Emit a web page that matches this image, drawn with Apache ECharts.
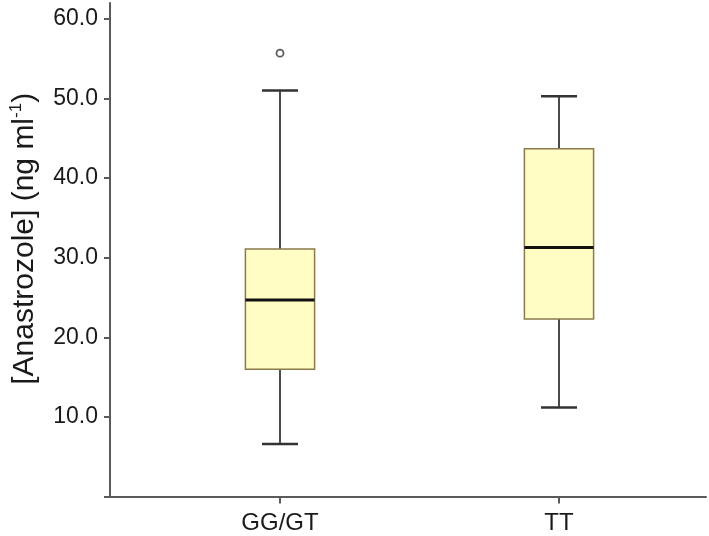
<!DOCTYPE html>
<html>
<head>
<meta charset="utf-8">
<script src="https://cdn.jsdelivr.net/npm/echarts@6/dist/echarts.min.js"></script>
<style>
  html, body { margin: 0; padding: 0; background: #fff; }
  #main { width: 709px; height: 536px; }
</style>
</head>
<body>
<div id="main"></div>
<script>
// box data
const categories = ['GG/GT', 'TT']
const whiskerLow = [6.6, 11.2]
const quartile1 = [16.0, 22.3]
const medians = [24.7, 31.3]
const quartile3 = [31.1, 43.7]
const whiskerHigh = [51.0, 50.3]
const outliers = [[0, 55.7]]
const yTicks = [0, 10, 20, 30, 40, 50, 60]
const yLabels = [10, 20, 30, 40, 50, 60]

const FONT = '"Liberation Sans", Arial, sans-serif'
const AXIS_COLOR = '#5a5a5a'

const boxData = categories.map((c, i) => [i, whiskerLow[i], quartile1[i], medians[i], quartile3[i], whiskerHigh[i]])

const renderBox = (params, api) => {
    const idx = api.value(0)
    const lo = api.coord([idx, api.value(1)])
    const q1 = api.coord([idx, api.value(2)])
    const md = api.coord([idx, api.value(3)])
    const q3 = api.coord([idx, api.value(4)])
    const hi = api.coord([idx, api.value(5)])
    const band = api.size([1, 0])[0]
    const half = band * 0.124
    const cap = half * 0.52
    const x = lo[0]
    const whisker = { stroke: '#4a4a4a', lineWidth: 2 }
    const capStyle = { stroke: '#333', lineWidth: 2.5 }
    return {
        type: 'group',
        children: [
            { type: 'line', shape: { x1: x, y1: lo[1], x2: x, y2: q1[1] }, style: whisker },
            { type: 'line', shape: { x1: x, y1: q3[1], x2: x, y2: hi[1] }, style: whisker },
            { type: 'line', shape: { x1: x - cap, y1: lo[1], x2: x + cap, y2: lo[1] }, style: capStyle },
            { type: 'line', shape: { x1: x - cap, y1: hi[1], x2: x + cap, y2: hi[1] }, style: capStyle },
            {
                type: 'rect',
                shape: { x: x - half, y: q3[1], width: half * 2, height: q1[1] - q3[1] },
                style: { fill: '#FFFDC4', stroke: '#8a7a4c', lineWidth: 1.5 }
            },
            { type: 'line', shape: { x1: x - half, y1: md[1], x2: x + half, y2: md[1] }, style: { stroke: '#111', lineWidth: 3 } }
        ]
    }
}

const myChart = echarts.init(document.getElementById('main'))
const option = {
    animation: false,
    textStyle: { fontFamily: FONT },
    grid: [
        { left: 109, right: 3, top: 3, bottom: 39.4 },
        { left: 140.5, right: 10.5, top: 3, bottom: 39.4 }
    ],
    xAxis: [
        {
            gridIndex: 0,
            type: 'value',
            min: 0,
            max: 1,
            axisLine: { show: true, lineStyle: { color: AXIS_COLOR, width: 2 } },
            axisTick: { show: false },
            axisLabel: { show: false },
            splitLine: { show: false }
        },
        {
            gridIndex: 1,
            type: 'category',
            data: categories,
            axisLine: { show: false },
            axisTick: { show: true, alignWithLabel: true, length: 7, lineStyle: { color: AXIS_COLOR, width: 2 } },
            axisLabel: { color: '#1a1a1a', fontSize: 24, margin: 15, fontFamily: FONT },
            splitLine: { show: false }
        }
    ],
    yAxis: [
        {
            gridIndex: 0,
            type: 'value',
            min: 0,
            max: 62,
            axisLine: { show: true, lineStyle: { color: AXIS_COLOR, width: 2 } },
            axisTick: { show: true, length: 6, customValues: yTicks, lineStyle: { color: AXIS_COLOR, width: 2 } },
            axisLabel: {
                customValues: yLabels,
                color: '#1a1a1a',
                fontSize: 23,
                margin: 12,
                fontFamily: FONT,
                formatter: v => v.toFixed(1)
            },
            splitLine: { show: false },
            name: '{a|[Anastrozole] (ng ml}{s|-1}{a|)}',
            nameLocation: 'middle',
            nameGap: 68,
            nameTextStyle: {
                padding: [0, 0, 0, 22],
                rich: {
                    a: { fontSize: 30, color: '#1a1a1a', fontFamily: FONT, lineHeight: 34 },
                    s: { fontSize: 17, color: '#1a1a1a', fontFamily: FONT, verticalAlign: 'top', lineHeight: 34 }
                }
            }
        },
        {
            gridIndex: 1,
            type: 'value',
            min: 0,
            max: 62,
            show: false
        }
    ],
    series: [
        {
            type: 'custom',
            xAxisIndex: 1,
            yAxisIndex: 1,
            renderItem: renderBox,
            encode: { x: 0, y: [1, 2, 3, 4, 5] },
            data: boxData
        },
        {
            type: 'scatter',
            xAxisIndex: 1,
            yAxisIndex: 1,
            symbol: 'circle',
            symbolSize: 7,
            itemStyle: { color: '#fff', borderColor: '#333', borderWidth: 1.8 },
            data: outliers
        }
    ]
}
myChart.setOption(option)
</script>
</body>
</html>
